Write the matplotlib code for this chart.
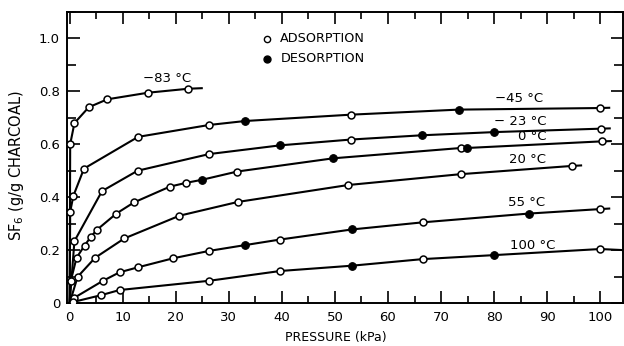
import matplotlib
matplotlib.use("Agg")
import matplotlib.pyplot as plt
from matplotlib.ticker import MultipleLocator

plt.rcParams['font.family'] = ['DejaVu Sans']
plt.rcParams['mathtext.default'] = 'regular'

# isotherms: pressure (kPa), uptake (g/g), desorption flag
x_m83 = [0.1, 0.9, 3.6, 7.1, 14.8, 22.4]
y_m83 = [0.60, 0.68, 0.74, 0.77, 0.795, 0.81]
d_m83 = [0, 0, 0, 0, 0, 0]

x_m45 = [0.1, 0.7, 2.7, 12.9, 26.3, 33.1, 53.1, 73.3, 100.0]
y_m45 = [0.345, 0.405, 0.508, 0.628, 0.673, 0.688, 0.712, 0.731, 0.737]
d_m45 = [0, 0, 0, 0, 0, 1, 0, 1, 0]

x_m23 = [0.9, 6.1, 12.8, 26.3, 39.7, 53.1, 66.4, 80.0, 100.1]
y_m23 = [0.234, 0.423, 0.500, 0.563, 0.596, 0.618, 0.634, 0.646, 0.659]
d_m23 = [0, 0, 0, 0, 1, 0, 1, 1, 0]

x_0 = [0.2, 1.3, 2.8, 4.0, 5.1, 8.8, 12.1, 18.9, 21.9, 25.0, 31.6, 49.7, 73.8, 74.9, 100.3]
y_0 = [0.083, 0.171, 0.217, 0.250, 0.276, 0.338, 0.380, 0.440, 0.454, 0.466, 0.497, 0.547, 0.586, 0.586, 0.611]
d_0 = [0, 0, 0, 0, 0, 0, 0, 0, 0, 1, 0, 1, 0, 1, 0]

x_20 = [1.5, 4.8, 10.3, 20.7, 31.7, 52.5, 73.7, 94.6]
y_20 = [0.099, 0.171, 0.244, 0.330, 0.382, 0.446, 0.487, 0.518]
d_20 = [0, 0, 0, 0, 0, 0, 0, 0]

x_55 = [0.9, 6.2, 9.4, 12.9, 19.5, 26.3, 33.1, 39.7, 53.2, 66.6, 86.5, 100.0]
y_55 = [0.020, 0.083, 0.116, 0.135, 0.169, 0.197, 0.219, 0.240, 0.278, 0.305, 0.338, 0.355]
d_55 = [0, 0, 0, 0, 0, 0, 1, 0, 1, 0, 1, 0]

x_100 = [0.7, 6.0, 9.4, 26.3, 39.7, 53.2, 66.6, 80.0, 100.0]
y_100 = [0.004, 0.030, 0.049, 0.084, 0.121, 0.141, 0.166, 0.181, 0.204]
d_100 = [0, 0, 0, 0, 0, 1, 0, 1, 0]

# where each drawn curve stops (x, y)
end_pts = [(24.9, 0.812), (101.7, 0.738), (101.8, 0.660), (102.0, 0.612),
           (96.4, 0.520), (101.7, 0.357), (104.3, 0.200)]

labels = ["\u221283 \u00b0C", "\u221245 \u00b0C", "\u2212 23 \u00b0C", "0 \u00b0C",
          "20 \u00b0C", "55 \u00b0C", "100 \u00b0C"]
label_pos = [(18.3, 0.848), (84.7, 0.772), (84.9, 0.687), (87.2, 0.628),
             (86.3, 0.542), (86.2, 0.380), (87.3, 0.219)]

curves = [(x_m83, y_m83, d_m83), (x_m45, y_m45, d_m45), (x_m23, y_m23, d_m23),
          (x_0, y_0, d_0), (x_20, y_20, d_20), (x_55, y_55, d_55), (x_100, y_100, d_100)]

fig = plt.figure(figsize=(6.24, 3.46), dpi=100)
ax = fig.add_axes([67 / 624, 43 / 346, 556 / 624, 291 / 346])

for (xs, ys, ds), end, lab, lp in zip(curves, end_pts, labels, label_pos):
    ax.plot([0] + xs + [end[0]], [0] + ys + [end[1]], color='black', lw=1.5,
            solid_joinstyle='round', zorder=2)
    xo = [a for a, d in zip(xs, ds) if not d]
    yo = [b for b, d in zip(ys, ds) if not d]
    xf = [a for a, d in zip(xs, ds) if d]
    yf = [b for b, d in zip(ys, ds) if d]
    ax.plot(xo, yo, 'o', ms=5, mfc='white', mec='black', mew=1.1, zorder=3)
    ax.plot(xf, yf, 'o', ms=5.5, mfc='black', mec='black', mew=0.8, zorder=3)
    ax.text(lp[0], lp[1], lab, ha='center', va='center', fontsize=9.5)

# legend drawn by hand, as in the original
ax.plot([37.2], [0.999], 'o', ms=4.5, mfc='white', mec='black', mew=1.0)
ax.plot([37.2], [0.923], 'o', ms=5, mfc='black', mec='black')
ax.text(39.7, 0.999, "ADSORPTION", ha='left', va='center', fontsize=9.2)
ax.text(39.7, 0.923, "DESORPTION", ha='left', va='center', fontsize=9.2)

ax.set_xlim(-0.5, 104.3)
ax.set_ylim(0, 1.1)
ax.xaxis.set_major_locator(MultipleLocator(10))
ax.xaxis.set_minor_locator(MultipleLocator(5))
ax.yaxis.set_major_locator(MultipleLocator(0.2))
ax.yaxis.set_minor_locator(MultipleLocator(0.1))
ax.set_yticks([0, 0.2, 0.4, 0.6, 0.8, 1.0])
ax.set_yticklabels(["0", "0.2", "0.4", "0.6", "0.8", "1.0"])
ax.tick_params(which='both', direction='in', top=True, right=True, width=1.2,
               labelsize=9.5)
ax.tick_params(axis='x', which='major', length=8.5, pad=6)
ax.tick_params(axis='x', which='minor', length=5)
ax.tick_params(axis='y', which='major', length=9, pad=5)
ax.tick_params(axis='y', which='minor', length=6.5)
for s in ax.spines.values():
    s.set_linewidth(1.4)

ax.set_xlabel("PRESSURE (kPa)", fontsize=9)
ax.xaxis.set_label_coords(0.484, -0.097)
ax.set_ylabel("SF$_6$ (g/g CHARCOAL)", fontsize=10.5)
ax.yaxis.set_label_coords(-0.074, 0.474)

fig.savefig("out.png", dpi=100)
